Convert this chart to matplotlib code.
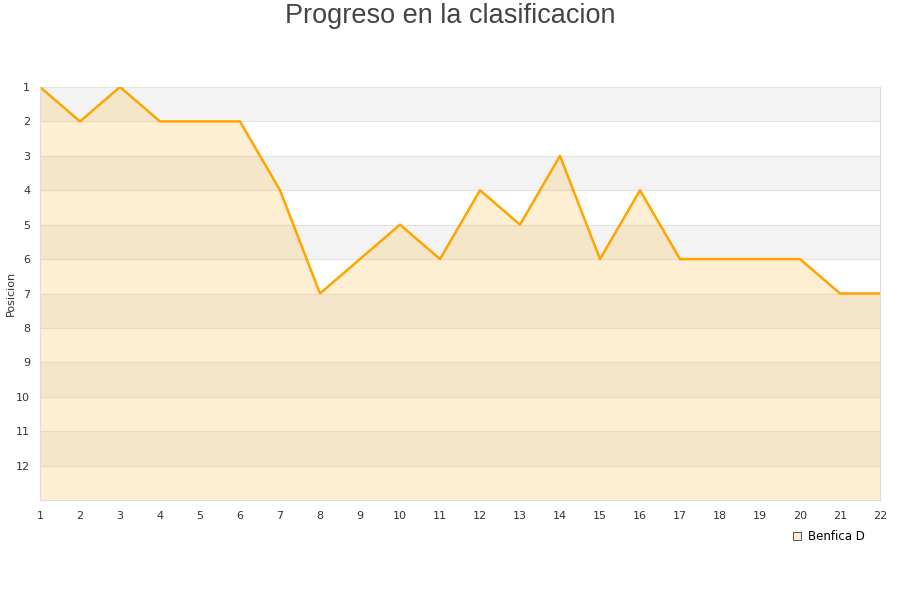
import matplotlib
matplotlib.use("Agg")
import matplotlib.pyplot as plt
from matplotlib.lines import Line2D

jornadas = list(range(1, 23))
posiciones = [1, 2, 1, 2, 2, 2, 4, 7, 6, 5, 6, 4, 5, 3, 6, 4, 6, 6, 6, 6, 7, 7]
team = "Benfica D"
title = "Progreso en la clasificacion"
ylabel = "Posicion"
yticks = list(range(1, 13))

fig = plt.figure(figsize=(9, 6), dpi=100)
ax = fig.add_axes([40/900, 1-500/600, 840/900, (500-87)/600])

ymin, ymax = 1, 13
for k in range(1, 13):
    color = "#f3f3f3" if k % 2 == 1 else "#ffffff"
    ax.axhspan(k, k+1, color=color, zorder=0, lw=0)
    ax.axhline(k, color="#e2e2e2", lw=0.8, zorder=0.5)

ax.fill_between(jornadas, posiciones, ymax, color="#FFC04D", alpha=0.25, lw=0, zorder=1)
ax.plot(jornadas, posiciones, color="#FFA500", lw=1.8, zorder=2)

ax.set_xlim(1, 22)
ax.set_ylim(ymax, ymin)
ax.set_xticks(jornadas)
ax.set_yticks(yticks)
ax.tick_params(axis="both", length=0, labelsize=8, colors="#333333")
ax.tick_params(axis="y", pad=7)
ax.tick_params(axis="x", pad=8)
for s in ["left", "bottom", "right", "top"]:
    ax.spines[s].set_color("#dddddd")
ax.spines["top"].set_visible(False)

fig.text(11/900, 1-293/600, ylabel, rotation=90, fontsize=8, color="#333333",
         ha="center", va="center")

fig.text(0.5, 1-16/600, title, fontsize=19.5, color="#444444", family="Liberation Sans",
         ha="center", va="center")

handle = Line2D([], [], marker="s", linestyle="none", markersize=6,
                markerfacecolor="#FFEFCF", markeredgecolor="#555555", markeredgewidth=0.7)
fig.legend([handle], [team], loc="center left", bbox_to_anchor=(786/900, 1-537/600),
           frameon=False, fontsize=8.5, handletextpad=0.6, borderpad=0, handlelength=0.8)

fig.savefig("out.png", dpi=100)
